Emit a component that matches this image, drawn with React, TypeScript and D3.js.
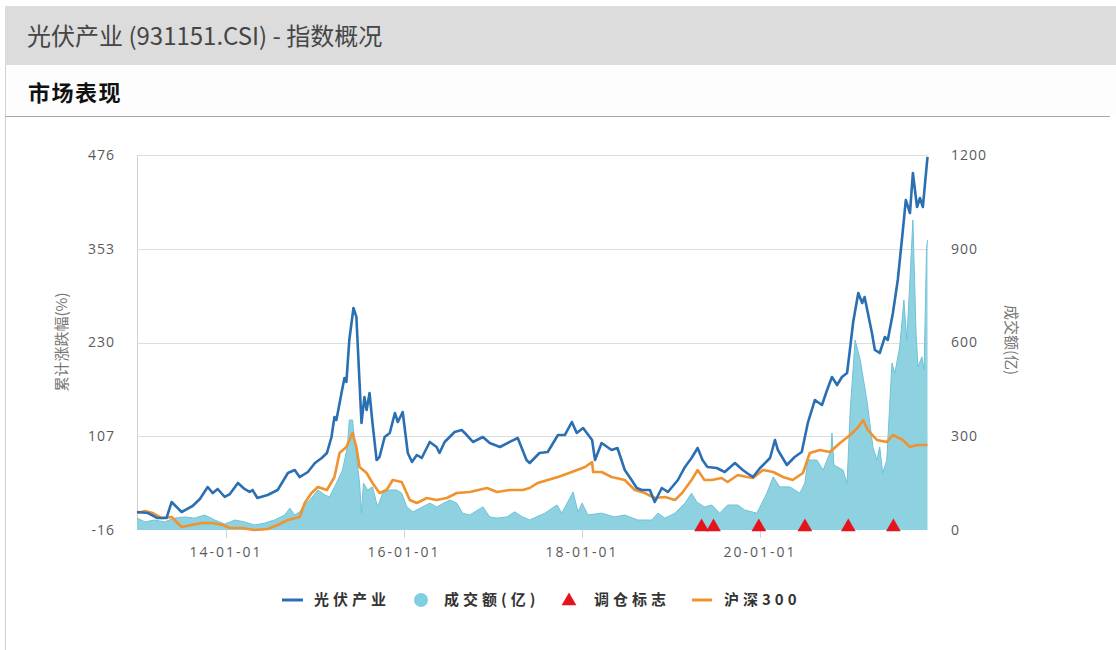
import React from "react";
import * as d3 from "d3";

// ---------- DATA ----------
const gfDates = [
  "2013-01-01","2013-02-15","2013-03-26","2013-05-02","2013-05-23","2013-07-03","2013-08-17","2013-09-16","2013-10-18","2013-11-08",
  "2013-11-28","2013-12-27","2014-01-17","2014-02-19","2014-03-18","2014-04-08","2014-04-20","2014-05-10","2014-06-21","2014-08-01",
  "2014-09-12","2014-10-10","2014-10-30","2014-12-03","2015-01-01","2015-01-29","2015-02-19","2015-03-10","2015-03-22","2015-03-30",
  "2015-04-20","2015-05-02","2015-05-10","2015-05-22","2015-06-08","2015-06-20","2015-07-11","2015-07-23","2015-08-01","2015-08-13",
  "2015-08-25","2015-09-11","2015-09-23","2015-10-14","2015-11-04","2015-11-25","2015-12-07","2015-12-27","2016-01-17","2016-02-03",
  "2016-02-23","2016-03-14","2016-04-16","2016-05-14","2016-05-26","2016-06-16","2016-07-27","2016-08-25","2016-09-15","2016-10-10",
  "2016-11-20","2016-12-18","2017-01-29","2017-03-10","2017-04-12","2017-05-18","2017-05-31","2017-07-10","2017-08-13","2017-09-24",
  "2017-10-22","2017-11-20","2017-12-10","2018-01-05","2018-02-11","2018-02-23","2018-03-22","2018-05-02","2018-05-26","2018-06-25",
  "2018-07-23","2018-08-13","2018-09-03","2018-10-06","2018-10-26","2018-11-24","2018-12-19","2019-01-29","2019-02-27","2019-03-26",
  "2019-04-20","2019-05-10","2019-05-30","2019-07-07","2019-08-09","2019-09-20","2019-10-22","2019-11-08","2019-12-03","2020-01-01",
  "2020-02-11","2020-03-02","2020-03-14","2020-04-20","2020-05-22","2020-06-20","2020-07-15","2020-08-13","2020-09-11","2020-10-02",
  "2020-10-22","2020-11-12","2020-12-02","2020-12-23","2021-01-05","2021-01-17","2021-02-07","2021-02-23","2021-03-05","2021-04-04",
  "2021-04-16","2021-05-06","2021-05-27","2021-06-08","2021-06-29","2021-07-19","2021-08-09","2021-08-21","2021-09-07","2021-09-19",
  "2021-10-06","2021-10-18","2021-10-30","2021-11-08","2021-11-18"
];
const gfValues = [
  7.6,6.3,-0.3,-0.3,20.7,7.6,15.5,24.7,40.4,32.5,
  37.8,27.3,31.2,45.7,37.8,33.9,36.5,26,29.9,36.5,
  58.8,62.7,53.5,60.1,71.9,78.5,85,106,132.3,128.3,
  163.7,183.4,178.2,233.3,275.3,263.5,124.4,158.5,141.4,163.7,
  124.4,75.8,79.8,106,111.3,137.5,125.7,138.8,85,73.2,
  82.4,78.5,99.5,92.9,85,99.5,112.6,115.2,108.6,99.5,
  106,98.1,92.9,99.5,104.7,75.8,71.9,85,86.3,108.6,
  108.6,125.7,111.3,117.8,102.1,75.8,98.1,89,91.6,62.7,
  49.6,39.1,36.5,36.5,20.7,39.1,33.9,49.6,66.7,78.5,
  91.6,75.8,66.7,65.3,60.1,71.9,62.7,58.8,53.5,65.3,
  78.5,102.1,89,69.3,79.8,86.3,124.4,154.6,148,167.7,
  184.7,174.2,184.7,190,224.1,256.9,294.9,281.8,289.7,242.5,
  220.2,216.2,237.2,233.3,268.7,312,377.6,417,399.9,452.4,
  407.8,419.6,407.8,439.3,473.4
];

const hsDates = [
  "2013-01-01","2013-02-03","2013-03-06","2013-04-12","2013-05-23","2013-07-03","2013-08-13","2013-09-24","2013-11-08","2013-12-19",
  "2014-01-17","2014-03-06","2014-04-28","2014-06-21","2014-08-01","2014-09-12","2014-10-30","2014-11-20","2014-12-18","2015-01-13",
  "2015-02-19","2015-03-22","2015-04-12","2015-05-10","2015-06-04","2015-06-20","2015-07-03","2015-08-01","2015-08-25","2015-09-23",
  "2015-10-22","2015-11-16","2015-12-23","2016-01-25","2016-02-23","2016-04-04","2016-05-14","2016-06-25","2016-08-05","2016-09-27",
  "2016-12-07","2017-01-17","2017-03-10","2017-05-02","2017-05-31","2017-07-03","2017-08-13","2017-09-24","2017-11-20","2018-01-13",
  "2018-02-11","2018-02-15","2018-03-22","2018-05-02","2018-06-25","2018-08-05","2018-09-16","2018-10-26","2018-12-07","2019-01-17",
  "2019-02-15","2019-03-26","2019-04-20","2019-05-18","2019-06-17","2019-07-27","2019-08-21","2019-10-02","2019-11-08","2019-12-03",
  "2020-01-13","2020-02-24","2020-04-04","2020-05-14","2020-06-25","2020-07-23","2020-09-03","2020-10-14","2020-11-24","2021-01-05",
  "2021-02-07","2021-02-27","2021-03-18","2021-04-24","2021-06-04","2021-06-29","2021-08-09","2021-09-07","2021-10-06","2021-11-18"
];
const hsValues = [
  6.3,8.9,6.3,-0.3,1.1,-12.1,-9.4,-6.8,-6.8,-9.4,
  -13.4,-13.4,-16,-14.7,-9.4,-2.9,1.1,19.4,32.5,40.4,
  36.5,53.5,85,92.9,111.3,92.9,66.7,58.8,45.7,32.5,
  36.5,49.6,47,23.4,19.4,26,23.4,26,32.5,33.9,
  39.1,33.9,36.5,36.5,39.1,45.7,49.6,53.5,60.1,66.7,
  73.2,60.1,60.1,53.5,49.6,36.5,32.5,26,27.3,23.4,
  32.5,49.6,62.7,49.6,49.6,52.2,47,56.2,53.5,52.2,
  62.7,60.1,53.5,49.6,58.8,85,89,86.3,98.1,108.6,
  119.1,128.3,115.2,102.1,99.5,108.6,102.1,92.9,95.5,95.5
];

const volDates = [
  "2013-01-01","2013-02-03","2013-03-14","2013-04-24","2013-06-04","2013-07-15","2013-08-25","2013-10-06","2013-11-16","2013-12-27",
  "2014-02-07","2014-03-18","2014-04-28","2014-06-08","2014-07-19","2014-08-30","2014-09-20","2014-10-10","2014-10-30","2014-11-20",
  "2014-12-11","2015-01-13","2015-02-11","2015-03-02","2015-03-30","2015-04-24","2015-05-14","2015-05-22","2015-06-04","2015-06-16",
  "2015-07-03","2015-07-11","2015-07-19","2015-08-05","2015-08-25","2015-09-15","2015-10-06","2015-11-04","2015-12-02","2015-12-23",
  "2016-01-13","2016-02-07","2016-03-18","2016-04-16","2016-05-14","2016-07-07","2016-08-05","2016-08-29","2016-09-27","2016-11-20",
  "2016-12-18","2017-01-17","2017-02-27","2017-03-30","2017-05-02","2017-05-31","2017-08-01","2017-09-20","2017-10-10","2017-11-25",
  "2017-12-15","2018-01-01","2018-01-25","2018-03-22","2018-05-14","2018-06-25","2018-08-17","2018-10-14","2018-11-08","2018-12-07",
  "2019-01-17","2019-02-27","2019-03-26","2019-04-16","2019-05-18","2019-06-17","2019-07-19","2019-08-21","2019-10-02","2019-10-30",
  "2019-12-19","2020-01-29","2020-02-24","2020-03-22","2020-05-02","2020-06-12","2020-07-03","2020-07-15","2020-08-21","2020-09-16",
  "2020-10-18","2020-10-22","2020-10-30","2020-12-06","2020-12-23","2021-01-05","2021-01-25","2021-02-15","2021-03-14","2021-04-08",
  "2021-04-24","2021-05-06","2021-05-18","2021-06-04","2021-06-25","2021-07-07","2021-07-27","2021-08-13","2021-08-25","2021-09-07",
  "2021-09-19","2021-10-02","2021-10-10","2021-10-26","2021-11-04","2021-11-14","2021-11-18"
];
const volValues = [
  38,26,32,26,38,42,38,48,32,19,
  32,26,16,22,32,48,70,48,58,80,
  96,128,112,106,150,192,266,352,352,266,
  150,54,150,128,138,74,118,128,128,118,
  74,58,74,86,74,96,86,54,48,74,
  42,38,42,58,42,32,54,80,54,122,
  58,86,48,54,42,48,32,32,54,38,
  54,86,118,90,74,80,54,80,80,64,
  54,118,170,138,138,118,150,224,224,192,
  256,310,208,192,150,384,608,544,416,266,
  224,266,182,224,534,502,586,736,608,800,
  992,630,522,554,512,900,928
];

const tiaocangDates = ["2019-05-06","2019-06-24","2019-12-27","2020-07-03","2020-12-28","2021-07-01"];

const leftTicks = [-16, 107, 230, 353, 476];
const rightTicks = [0, 300, 600, 900, 1200];
const xTickDates = ["2014-01-01", "2016-01-01", "2018-01-01", "2020-01-01"];

const titleText = "光伏产业 (931151.CSI) - 指数概况";
const sectionText = "市场表现";
const leftAxisTitle = "累计涨跌幅(%)";
const rightAxisTitle = "成交额(亿)";
const legendNames = ["光伏产业", "成交额(亿)", "调仓标志", "沪深300"];

// ---------- STYLE ----------
const BLUE = "#2b6fb3";
const ORANGE = "#f0922e";
const AREA_FILL = "#8ed2e1";
const AREA_STROKE = "#6fc2d6";
const RED = "#e5141c";
const FONT = "'Open Sans', 'Noto Sans CJK SC', sans-serif";
const CJK = "'Noto Sans CJK SC', 'Open Sans', sans-serif";

const parse = d3.timeParse("%Y-%m-%d");

export default function App() {
  const W = 1116, H = 650;
  const plot = { left: 137, right: 928, top: 155, bottom: 530 };

  const x = d3.scaleTime()
    .domain([parse("2013-01-01")!, parse("2021-11-20")!])
    .range([plot.left, plot.right]);
  const yL = d3.scaleLinear().domain([-16, 476]).range([plot.bottom, plot.top]);
  const yR = d3.scaleLinear().domain([0, 1200]).range([plot.bottom, plot.top]);

  const gf = gfDates.map((d, i) => ({ d: parse(d)!, v: gfValues[i] }));
  const hs = hsDates.map((d, i) => ({ d: parse(d)!, v: hsValues[i] }));
  const vol = volDates.map((d, i) => ({ d: parse(d)!, v: volValues[i] }));

  const lineL = d3.line<{ d: Date; v: number }>().x(p => x(p.d)).y(p => yL(p.v));
  const areaR = d3.area<{ d: Date; v: number }>().x(p => x(p.d)).y0(yR(0)).y1(p => yR(p.v));
  const lineR = d3.line<{ d: Date; v: number }>().x(p => x(p.d)).y(p => yR(p.v));

  const fmt = d3.timeFormat("%y-%m-%d");
  const tri = d3.symbol().type(d3.symbolTriangle).size(95)();

  return (
    <svg width={W} height={H} style={{ position: "absolute", left: 0, top: 0, background: "#fff" }} fontFamily={FONT}>
      {/* header band */}
      <rect x={5} y={6} width={W - 5} height={59} fill="#dcdcdc" />
      <text x={27} y={45} fontSize={24} fill="#454545" fontFamily={CJK}>{titleText}</text>
      {/* panel */}
      <rect x={5} y={65} width={W - 5} height={H - 65} fill="#fff" />
      <line x1={5.5} y1={65} x2={5.5} y2={H} stroke="#d0d0d0" />
      <rect x={6} y={66} width={W - 6} height={50} fill="#fdfdfd" />
      <text x={28} y={101} fontSize={22} fontWeight="bold" fill="#111" fontFamily={CJK} letterSpacing={1.5}>{sectionText}</text>
      <line x1={5} y1={116.5} x2={1110} y2={116.5} stroke="#a8a8a8" />

      {/* grid */}
      {leftTicks.slice(1).map(t => (
        <line key={t} x1={plot.left} x2={plot.right} y1={Math.round(yL(t)) + 0.5} y2={Math.round(yL(t)) + 0.5} stroke="#dedede" />
      ))}
      <line x1={plot.left + 0.5} x2={plot.left + 0.5} y1={plot.top} y2={plot.bottom} stroke="#d2d2d2" />
      {xTickDates.map(t => (
        <line key={t} x1={Math.round(x(parse(t)!)) + 0.5} x2={Math.round(x(parse(t)!)) + 0.5} y1={plot.bottom} y2={plot.bottom + 8} stroke="#d2d2d2" />
      ))}

      {/* volume area */}
      <path d={areaR(vol)!} fill={AREA_FILL} />
      <path d={lineR(vol)!} fill="none" stroke={AREA_STROKE} strokeWidth={1} />

      {/* lines */}
      <path d={lineL(hs)!} fill="none" stroke={ORANGE} strokeWidth={2.6} strokeLinejoin="round" />
      <path d={lineL(gf)!} fill="none" stroke={BLUE} strokeWidth={2.6} strokeLinejoin="round" />

      {/* rebalance markers */}
      {tiaocangDates.map(t => (
        <path key={t} d={tri!} fill={RED} transform={`translate(${x(parse(t)!)},${plot.bottom - 3})`} />
      ))}

      {/* left axis labels */}
      {leftTicks.map(t => (
        <text key={t} x={115} y={yL(t)} dy="0.35em" textAnchor="end" fontSize={14} fill="#5a5a5a" letterSpacing={1}>{t}</text>
      ))}
      {/* right axis labels */}
      {rightTicks.map(t => (
        <text key={t} x={951} y={yR(t)} dy="0.35em" textAnchor="start" fontSize={14} fill="#5a5a5a" letterSpacing={1}>{t}</text>
      ))}
      {/* x labels */}
      {xTickDates.map(t => (
        <text key={t} x={x(parse(t)!)} y={557} textAnchor="middle" fontSize={14} fill="#5a5a5a" letterSpacing={2}>{fmt(parse(t)!)}</text>
      ))}

      {/* axis titles */}
      <text transform="translate(62,342) rotate(-90)" textAnchor="middle" dy="0.35em" fontSize={15} fill="#777" fontFamily={CJK}>{leftAxisTitle}</text>
      <text transform="translate(1011,340) rotate(90)" textAnchor="middle" dy="0.35em" fontSize={15} fill="#777" fontFamily={CJK}>{rightAxisTitle}</text>

      {/* legend */}
      <g fontFamily={CJK} fontSize={15} fontWeight="bold" fill="#333" letterSpacing={4}>
        <line x1={282} x2={303} y1={600} y2={600} stroke={BLUE} strokeWidth={3} />
        <text x={314} y={600} dy="0.35em">{legendNames[0]}</text>
        <circle cx={421} cy={600} r={7} fill="#80cfe0" />
        <text x={444} y={600} dy="0.35em">{legendNames[1]}</text>
        <path d={tri!} fill={RED} transform="translate(569,601)" />
        <text x={594} y={600} dy="0.35em">{legendNames[2]}</text>
        <line x1={692} x2={712} y1={600} y2={600} stroke={ORANGE} strokeWidth={3} />
        <text x={724} y={600} dy="0.35em">{legendNames[3]}</text>
      </g>
    </svg>
  );
}
